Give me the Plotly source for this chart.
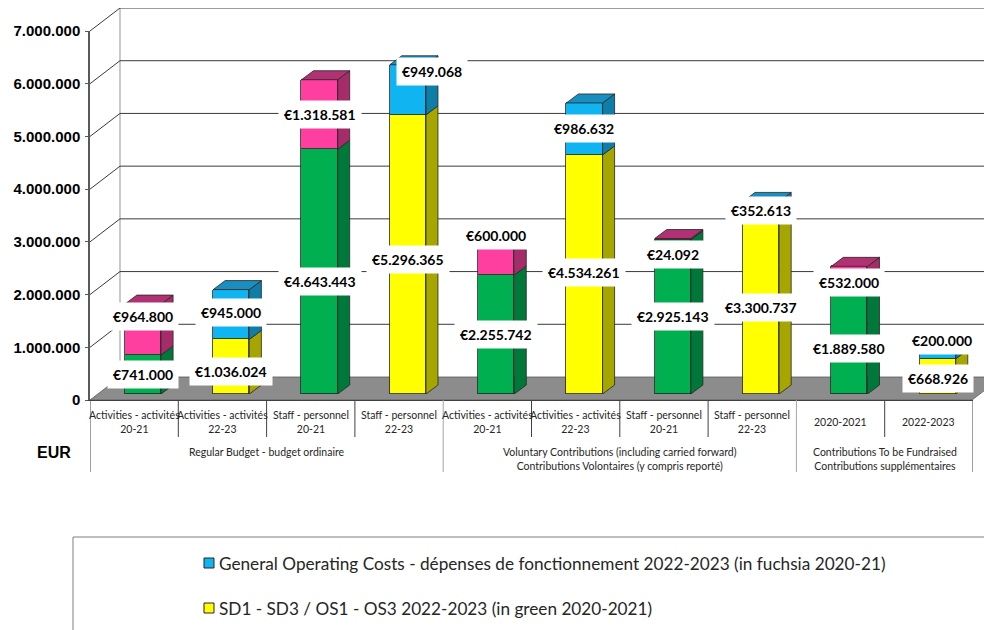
import plotly.graph_objects as go

# ---------------- data ----------------
sub_labels = ["Activities - activités<br>20-21", "Activities - activités<br>22-23",
              "Staff - personnel<br>20-21", "Staff - personnel<br>22-23",
              "Activities - activités<br>20-21", "Activities - activités<br>22-23",
              "Staff - personnel<br>20-21", "Staff - personnel<br>22-23",
              "2020-2021", "2022-2023"]
group_labels = ["Regular Budget - budget ordinaire",
                "Voluntary Contributions (including carried forward)<br>Contributions Volontaires (y compris reporté)",
                "Contributions To be Fundraised<br>Contributions supplémentaires"]
group_sizes = [4, 4, 2]
periods = ["20-21", "22-23", "20-21", "22-23", "20-21", "22-23", "20-21", "22-23", "20-21", "22-23"]
programme_values = [741000, 1036024, 4643443, 5296365, 2255742, 4534261, 2925143, 3300737, 1889580, 668926]
operating_values = [964800, 945000, 1318581, 949068, 600000, 986632, 24092, 352613, 532000, 200000]
legend_operating = "General Operating Costs - dépenses de fonctionnement 2022-2023 (in fuchsia 2020-21)"
legend_programme = "SD1 - SD3 / OS1 - OS3 2022-2023 (in green 2020-2021)"
y_ticks = [0, 1000000, 2000000, 3000000, 4000000, 5000000, 6000000, 7000000]

# ---------------- style / layout constants ----------------
PAGE = 8                    # the page's default body margin (px)
WIN_W, WIN_H = 992, 630
FIG_W, FIG_H = WIN_W - PAGE, WIN_H - PAGE
PLOT_L, PLOT_R, PLOT_T, PLOT_B = 90, 973, 31, 400   # plot area in window pixels
ML, MT = PLOT_L - PAGE, PLOT_T - PAGE
MR, MB = FIG_W - (PLOT_R - PAGE), FIG_H - (PLOT_B - PAGE)
PLOT_W = PLOT_R - PLOT_L
PLOT_H = PLOT_B - PLOT_T
YMAX = 7000000
UX = 10.0 / PLOT_W          # x data units per pixel
UY = YMAX / PLOT_H          # y data units per pixel
BAR_LIFT = 6                # px: bars stand slightly behind the front edge
DDX, DDY = 12, 9            # bar depth (px)
WDX, WDY = 30, 23           # wall depth (px)
BAR_W, BAR_OFF = 0.41, -0.105

colors = {
    "20-21": dict(prog="#00B050", prog_side="#00783A", oper="#FF3FA0", oper_side="#A52C69", oper_top="#B03273"),
    "22-23": dict(prog="#FFFF00", prog_side="#A6A600", oper="#0FB4F0", oper_side="#0E7EA8", oper_top="#1A8EBF"),
}
OUTLINE = "#262626"
FONT = "Lato"

# per-label pixel nudges (Excel's label placement)
prog_dy = [0, -5, -10, -5, 0, 2, 0, 0, -4, -2]
oper_dy = [13, 2, 0, 18, 24, 0, -15, 0, -2, 13]
oper_dx = [0, 0, 0, 24, 0, 0, 0, 0, 0, 4]

n = len(programme_values)
xs = list(range(n))


def px_x(pix):
    """window x pixel -> paper x"""
    return (pix - PLOT_L) / PLOT_W


def px_y(pix):
    """window y pixel -> paper y"""
    return (PLOT_B - pix) / PLOT_H


fig = go.Figure()

# empty trace so the value axis (x / y subplot) is drawn
fig.add_trace(go.Scatter(x=[None], y=[None], showlegend=False, hoverinfo="skip"))

# stacked bars (front faces)
fig.add_trace(go.Bar(
    x=xs, y=programme_values, width=BAR_W, offset=BAR_OFF, name=legend_programme,
    marker=dict(color=[colors[p]["prog"] for p in periods], line=dict(color=OUTLINE, width=0.8)),
    yaxis="y2", showlegend=False, hoverinfo="skip"))
fig.add_trace(go.Bar(
    x=xs, y=operating_values, width=BAR_W, offset=BAR_OFF, name=legend_operating,
    marker=dict(color=[colors[p]["oper"] for p in periods], line=dict(color=OUTLINE, width=0.8)),
    yaxis="y2", showlegend=False, hoverinfo="skip"))

shapes = []
annotations = []


def poly(pts):
    return "M " + " L ".join(f"{a},{b}" for a, b in pts) + " Z"


# background: floor, back wall, gridlines
wx, wy = WDX / PLOT_W, WDY / PLOT_H
shapes.append(dict(type="path", xref="paper", yref="paper", layer="below",
                   path=poly([(0, 0), (wx, wy), (px_x(1002), wy), (px_x(972), 0)]),
                   fillcolor="#8C8C8C", line=dict(color="#595959", width=0.8)))
shapes.append(dict(type="line", xref="paper", yref="paper", layer="below",
                   x0=wx, x1=wx, y0=wy, y1=1 + wy, line=dict(color="#A6A6A6", width=1.2)))
for v in y_ticks[1:]:
    f = v / YMAX
    shapes.append(dict(type="line", xref="paper", yref="paper", layer="below",
                       x0=wx, x1=1.05, y0=f + wy, y1=f + wy, line=dict(color="#3A3A3A", width=1)))
    shapes.append(dict(type="line", xref="paper", yref="paper", layer="below",
                       x0=0, x1=wx, y0=f, y1=f + wy, line=dict(color="#3A3A3A", width=1)))

# 3D side and top faces, computed from the values
dx, dy = DDX * UX, DDY * UY
for i in range(n):
    c = colors[periods[i]]
    left = i + BAR_OFF
    right = left + BAR_W
    t0 = programme_values[i]
    t1 = t0 + operating_values[i]
    for (bb, tt, col) in [(0, t0, c["prog_side"]), (t0, t1, c["oper_side"])]:
        shapes.append(dict(type="path", xref="x", yref="y2", layer="above",
                           path=poly([(right, bb), (right + dx, bb + dy), (right + dx, tt + dy), (right, tt)]),
                           fillcolor=col, line=dict(color=OUTLINE, width=0.8)))
    shapes.append(dict(type="path", xref="x", yref="y2", layer="above",
                       path=poly([(left, t1), (right, t1), (right + dx, t1 + dy), (left + dx, t1 + dy)]),
                       fillcolor=c["oper_top"], line=dict(color=OUTLINE, width=0.8)))


# data labels
def eur(v):
    return "€" + f"{v:,}".replace(",", ".")


for i in range(n):
    xc = i + BAR_OFF + BAR_W / 2
    p, o = programme_values[i], operating_values[i]
    annotations.append(dict(x=xc, y=p / 2, xref="x", yref="y2", text=eur(p), showarrow=False,
                            yshift=prog_dy[i], bgcolor="white", borderpad=5,
                            font=dict(family=FONT, size=14, color="black", weight="bold")))
    annotations.append(dict(x=xc, y=p + o / 2, xref="x", yref="y2", text=eur(o), showarrow=False,
                            yshift=oper_dy[i], xshift=oper_dx[i], bgcolor="white", borderpad=5,
                            font=dict(family=FONT, size=14, color="black", weight="bold")))

# category labels & dividers
for i, lab in enumerate(sub_labels):
    annotations.append(dict(x=i, y=px_y(422), xref="x", yref="paper", text=lab, showarrow=False,
                            yanchor="middle", font=dict(family=FONT, size=10.5, color="#262626")))
group_edges = [0]
for s in group_sizes:
    group_edges.append(group_edges[-1] + s)
for k in range(n + 1):
    is_group = k in group_edges
    shapes.append(dict(type="line", xref="x", yref="paper", x0=k - 0.5, x1=k - 0.5,
                       y0=0, y1=px_y(472) if is_group else px_y(437),
                       line=dict(color="#A6A6A6" if (is_group and 0 < k < n) else "#404040", width=1)))
for g, lab in enumerate(group_labels):
    xc = (group_edges[g] + group_edges[g + 1] - 1) / 2
    annotations.append(dict(x=xc, y=px_y(444), xref="x", yref="paper", text=lab, showarrow=False,
                            yanchor="top", font=dict(family=FONT, size=10.5, color="#262626")))

annotations.append(dict(x=px_x(35), y=px_y(463), xref="paper", yref="paper", text="<b>EUR</b>",
                        showarrow=False, font=dict(family="Liberation Sans", size=16, color="black")))

# legend (frame, swatches, texts)
shapes.append(dict(type="rect", xref="paper", yref="paper", x0=px_x(73), x1=1.05,
                   y0=px_y(640), y1=px_y(537), line=dict(color="#7F7F7F", width=1)))
for (txt, col, ypix) in [(legend_operating, colors["22-23"]["oper"], 563),
                         (legend_programme, colors["22-23"]["prog"], 608)]:
    shapes.append(dict(type="rect", xref="paper", yref="paper",
                       x0=px_x(204), x1=px_x(214), y0=px_y(ypix + 5), y1=px_y(ypix - 5),
                       fillcolor=col, line=dict(color=OUTLINE, width=1)))
    annotations.append(dict(x=px_x(217), y=px_y(ypix), xref="paper", yref="paper", text=txt,
                            showarrow=False, xanchor="left", yanchor="middle",
                            font=dict(family=FONT, size=17.2, color="#262626")))

fig.update_layout(
    width=FIG_W, height=FIG_H,
    margin=dict(l=ML, r=MR, t=MT, b=MB, autoexpand=False),
    paper_bgcolor="white", plot_bgcolor="rgba(0,0,0,0)",
    barmode="stack", bargap=0,
    separators=",.",
    shapes=shapes, annotations=annotations,
    showlegend=False,
    xaxis=dict(range=[-0.5, n - 0.5], showticklabels=False, showgrid=False, zeroline=False,
               showline=True, linecolor="#404040", linewidth=1, fixedrange=True),
    yaxis=dict(range=[0, YMAX], tickvals=y_ticks, tickformat=",d", showgrid=False, zeroline=False,
               showline=True, linecolor="#595959", linewidth=1.5, ticks="outside", ticklen=3,
               tickcolor="#595959", ticklabelstandoff=2, ticklabeloverflow="allow",
               tickfont=dict(family="Liberation Sans", size=15, color="black", weight="bold"),
               fixedrange=True),
    yaxis2=dict(domain=[BAR_LIFT / PLOT_H, 1], range=[0, YMAX * (PLOT_H - BAR_LIFT) / PLOT_H],
                anchor="x", visible=False, fixedrange=True),
)

fig.write_html("out.html")
